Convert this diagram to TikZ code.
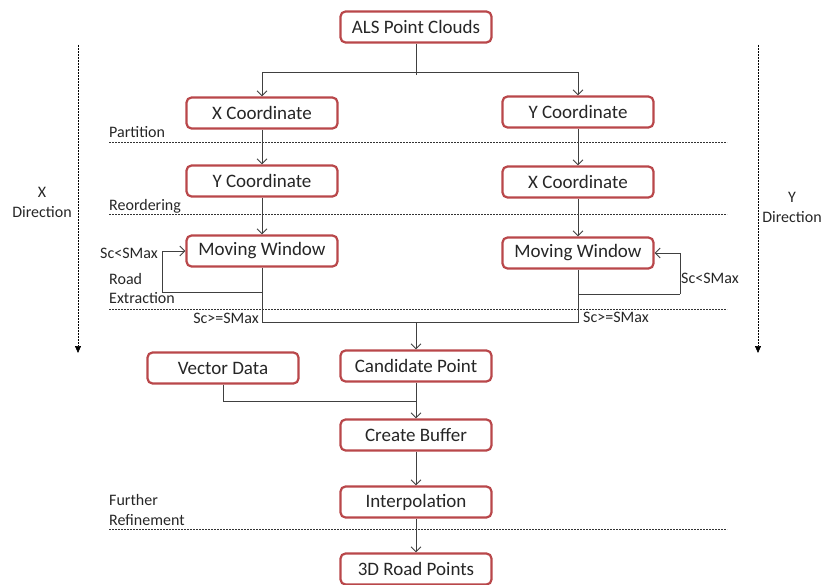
\documentclass[tikz,border=0pt]{standalone}
\usepackage{fontspec}
\setmainfont{Carlito}
\usetikzlibrary{arrows.meta}
\definecolor{boxred}{HTML}{B9474A}
\definecolor{ln}{HTML}{404040}
\tikzset{
  proc/.style={draw=boxred, line width=2.2pt, rounded corners=5pt, fill=white,
    minimum width=151pt, minimum height=31pt, inner sep=0pt,
    font=\fontsize{19}{21}\selectfont, text=black!85},
  flow/.style={draw=ln, line width=0.9pt, -{Straight Barb[length=5pt,width=10pt]}},
  seg/.style={draw=ln, line width=0.9pt},
  sepline/.style={draw=black!80, dash pattern=on 2pt off 1pt, line width=0.6pt},
  lab/.style={font=\fontsize{16}{18}\selectfont, inner sep=0pt, text=black!85},
  dirarrow/.style={draw=black, dash pattern=on 2pt off 1pt, line width=0.7pt,
    -{Triangle[length=7pt,width=6pt]}}
}
\begin{document}
\begin{tikzpicture}[x=1pt,y=-1pt]
\useasboundingbox (0,0) rectangle (824,585);

% separator lines
\coordinate (p1) at (109,142); \coordinate (p2) at (727,142);
\coordinate (r1) at (109,214); \coordinate (r2) at (727,214);
\coordinate (e1) at (109,309); \coordinate (e2) at (727,309);
\coordinate (f1) at (109,529); \coordinate (f2) at (727,529);
\draw[sepline] (p1) -- (p2);
\draw[sepline] (r1) -- (r2);
\draw[sepline] (e1) -- (e2);
\draw[sepline] (f1) -- (f2);
\node[lab, anchor=base west] (tpart) at (109,138) {Partition};
\node[lab, anchor=base west] (treord) at (109,211) {Reordering};
\node[lab, anchor=base west] (troad) at (109,284) {Road};
\node[lab, anchor=base west] (textr) at (109,303) {Extraction};
\node[lab, anchor=base west] (tfur) at (109,505) {Further};
\node[lab, anchor=base west] (tref) at (109,525) {Refinement};

% direction arrows
\coordinate (dl1) at (78,45); \coordinate (dl2) at (78,353);
\coordinate (dr1) at (758,45); \coordinate (dr2) at (758,353);
\draw[dirarrow] (dl1) -- (dl2);
\draw[dirarrow] (dr1) -- (dr2);
\node[lab, align=center, font=\fontsize{16}{20}\selectfont] (xdir) at (42,202) {X\\Direction};
\node[lab, align=center, font=\fontsize{16}{20}\selectfont] (ydir) at (792,207) {Y\\Direction};

% boxes
\node[proc] (als) at (416,27) {ALS Point Clouds};
\node[proc] (xc1) at (262,113) {X Coordinate};
\node[proc] (yc1) at (578,112) {Y Coordinate};
\node[proc] (yc2) at (262,181) {Y Coordinate};
\node[proc] (xc2) at (578,182) {X Coordinate};
\node[proc] (mw1) at (262,251) {Moving Window};
\node[proc] (mw2) at (578,253) {Moving Window};
\node[proc] (vec) at (223,368) {Vector Data};
\node[proc] (cand) at (416,366) {Candidate Point};
\node[proc] (buf) at (416,435) {Create Buffer};
\node[proc] (interp) at (416,502) {Interpolation};
\node[proc] (road) at (416,569) {3D Road Points};

% split from ALS
\coordinate (split) at (416,72);
\coordinate (splitend) at (416,75);
\draw[seg] (als) -- (splitend);
\draw[flow] (split) -| (xc1);
\draw[flow] (split) -| (yc1);

% chains
\draw[flow] (xc1) -- (yc2);
\draw[flow] (yc2) -- (mw1);
\draw[flow] (yc1) -- (xc2);
\draw[flow] (xc2) -- (mw2);

% left loop
\coordinate (lj) at (262,292);
\coordinate (lloop) at (162,292);
\coordinate (lb) at (262,322);
\coordinate (mj) at (416,322);
\draw[seg] (mw1) -- (lj) -- (lloop);
\draw[flow] (lloop) |- (mw1);
\draw[seg] (lj) -- (lb) -- (mj);

% right loop
\coordinate (rj) at (578,294);
\coordinate (rloop) at (680,294);
\coordinate (rb) at (578,322);
\draw[seg] (mw2) -- (rj) -- (rloop);
\draw[flow] (rloop) |- (mw2);
\draw[seg] (rj) -- (rb) -- (mj);

\draw[flow] (mj) -- (cand);

\node[lab, anchor=east] (lsc1) at (158,253) {Sc<SMax};
\node[lab, anchor=east] (lsc2) at (259,318) {Sc>=SMax};
\node[lab, anchor=west] (rsc1) at (681,278) {Sc<SMax};
\node[lab, anchor=west] (rsc2) at (583,317) {Sc>=SMax};

% vector data join
\coordinate (vj) at (416,401);
\draw[seg] (vec) |- (vj);
\draw[flow] (cand) -- (buf);
\draw[flow] (buf) -- (interp);
\draw[flow] (interp) -- (road);
\end{tikzpicture}
\end{document}
